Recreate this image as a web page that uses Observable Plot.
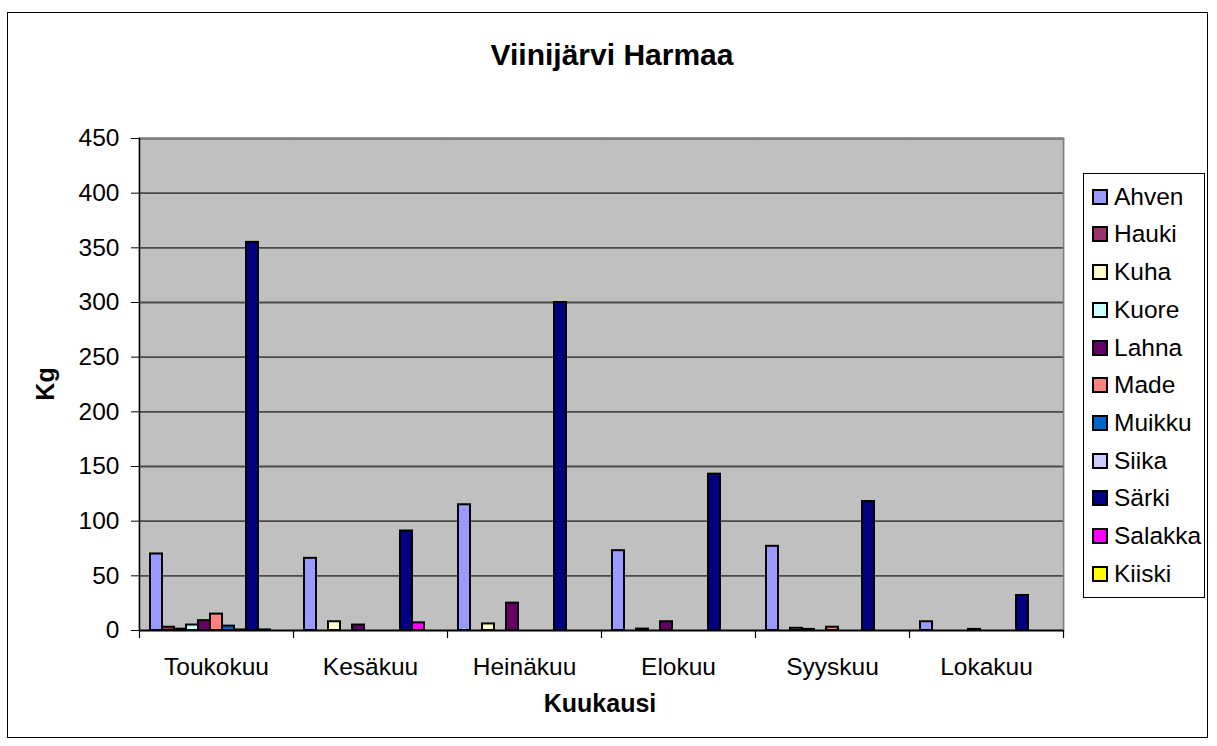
<!DOCTYPE html>
<html><head><meta charset="utf-8">
<script src="https://cdn.jsdelivr.net/npm/d3@7"></script>
<script src="https://cdn.jsdelivr.net/npm/@observablehq/plot@0.6"></script>
<style>
body{margin:0;background:#fff;}
#wrap{position:relative;width:1217px;height:746px;font-family:"Liberation Sans",Arial,sans-serif;overflow:hidden;}
#border{position:absolute;left:7px;top:12px;width:1201px;height:726px;border:1px solid #000;box-sizing:border-box;}
#chart{position:absolute;left:0;top:0;}
#overlay{position:absolute;left:0;top:0;pointer-events:none;}
#legend{position:absolute;left:1083px;top:173px;width:122px;height:425px;border:1px solid #000;box-sizing:border-box;background:#fff;}
.sw{position:absolute;width:16px;height:16px;border:2px solid #000;box-sizing:border-box;}
.lt{position:absolute;font-size:24.5px;line-height:28px;color:#000;white-space:nowrap;}
</style></head>
<body><div id="wrap"><div id="border"></div><div id="chart"></div>
<svg id="overlay" width="1217" height="746" font-family="Liberation Sans, Arial, sans-serif"></svg>
<div id="legend"></div></div>
<script>
const months = ["Toukokuu","Kesäkuu","Heinäkuu","Elokuu","Syyskuu","Lokakuu"];
const species = ["Ahven","Hauki","Kuha","Kuore","Lahna","Made","Muikku","Siika","Särki","Salakka","Kiiski"];
const colors = ["#9999FF","#993366","#FFFFCC","#CCFFFF","#660066","#FF8080","#0066CC","#CCCCFF","#000080","#FF00FF","#FFFF00"];
const yTicks = [0,50,100,150,200,250,300,350,400,450];

const ahven   = [70, 66, 115, 73, 77, 8];
const hauki   = [3, 0, 0, 0, 0, 0];
const kuha    = [1.2, 8, 6, 1.3, 2, 0];
const kuore   = [5, 0, 0, 0, 1, 0];
const lahna   = [9, 5, 25, 8, 0, 1];
const made    = [15, 0, 0, 0, 3, 0];
const muikku  = [4, 0, 0, 0, 0, 0];
const siika   = [0.5, 0, 0, 0, 0, 0];
const sarki   = [355, 91, 300, 143, 118, 32];
const salakka = [0.5, 7, 0, 0, 0, 0];
const kiiski  = [0, 0, 0, 0, 0, 0];
const seriesValues = [ahven, hauki, kuha, kuore, lahna, made, muikku, siika, sarki, salakka, kiiski];

const data = [];
species.forEach((s, i) => months.forEach((m, j) => {
  const v = seriesValues[i][j];
  if (v > 0) data.push({month: m, species: s, value: v});
}));

const chart = Plot.plot({
  width: 1217, height: 746,
  marginLeft: 138, marginRight: 154, marginTop: 138, marginBottom: 116,
  style: {fontFamily: "Liberation Sans, Arial, sans-serif", fontSize: "24.5px", color: "#000", background: "transparent"},
  fx: {domain: months, padding: 0, label: null},
  x: {domain: species, paddingInner: 0, paddingOuter: 0.75, axis: null},
  y: {domain: [0, 450], label: null},
  color: {domain: species, range: colors},
  marks: [
    Plot.frame({fill: "#C0C0C0", insetLeft: -1, insetRight: -1}),
    Plot.gridY(yTicks, {stroke: "#4a4a4a", strokeOpacity: 1, strokeWidth: 1.8}),
    Plot.frame({anchor: "top", stroke: "#808080", strokeWidth: 1.5}),
    Plot.frame({anchor: "right", stroke: "#808080", strokeWidth: 1.5, facetAnchor: "right"}),
    Plot.barY(data, {fx: "month", x: "species", y: "value", fill: "species", stroke: "#000", strokeWidth: 2}),
    Plot.ruleY([0], {stroke: "#000", strokeWidth: 1.5}),
    Plot.frame({anchor: "left", stroke: "#000", strokeWidth: 1.5, facetAnchor: "left"}),
    Plot.frame({anchor: "left", stroke: "#000", strokeWidth: 1.2, insetTop: 492, insetBottom: -7}),
    Plot.frame({anchor: "right", stroke: "#000", strokeWidth: 1.2, insetTop: 492, insetBottom: -7, facetAnchor: "right"}),
    Plot.axisY(yTicks, {anchor: "left", tickSize: 8, tickPadding: 12, label: null, fontSize: 24.5, stroke: "#000"}),
    Plot.axisFx({anchor: "bottom", tickSize: 0, tickPadding: 27, label: null, fontSize: 24.5})
  ]
});
document.getElementById("chart").appendChild(chart);

const ov = d3.select("#overlay");
ov.append("text").attr("x", 612).attr("y", 65).attr("text-anchor", "middle")
  .attr("font-size", 30).attr("font-weight", "bold").text("Viinijärvi Harmaa");
ov.append("text").attr("x", 600).attr("y", 712).attr("text-anchor", "middle")
  .attr("font-size", 25).attr("font-weight", "bold").text("Kuukausi");
ov.append("text").attr("transform", "translate(54,384) rotate(-90)").attr("text-anchor", "middle")
  .attr("font-size", 25).attr("font-weight", "bold").text("Kg");

const lg = document.getElementById("legend");
species.forEach((s, i) => {
  const cy = 196.7 + i * 37.7 - 174;
  const sw = document.createElement("div");
  sw.className = "sw"; sw.style.left = "8px"; sw.style.top = (cy - 8) + "px"; sw.style.background = colors[i];
  lg.appendChild(sw);
  const t = document.createElement("div");
  t.className = "lt"; t.style.left = "30px"; t.style.top = (cy - 14) + "px"; t.textContent = s;
  lg.appendChild(t);
});
</script>
</body></html>
